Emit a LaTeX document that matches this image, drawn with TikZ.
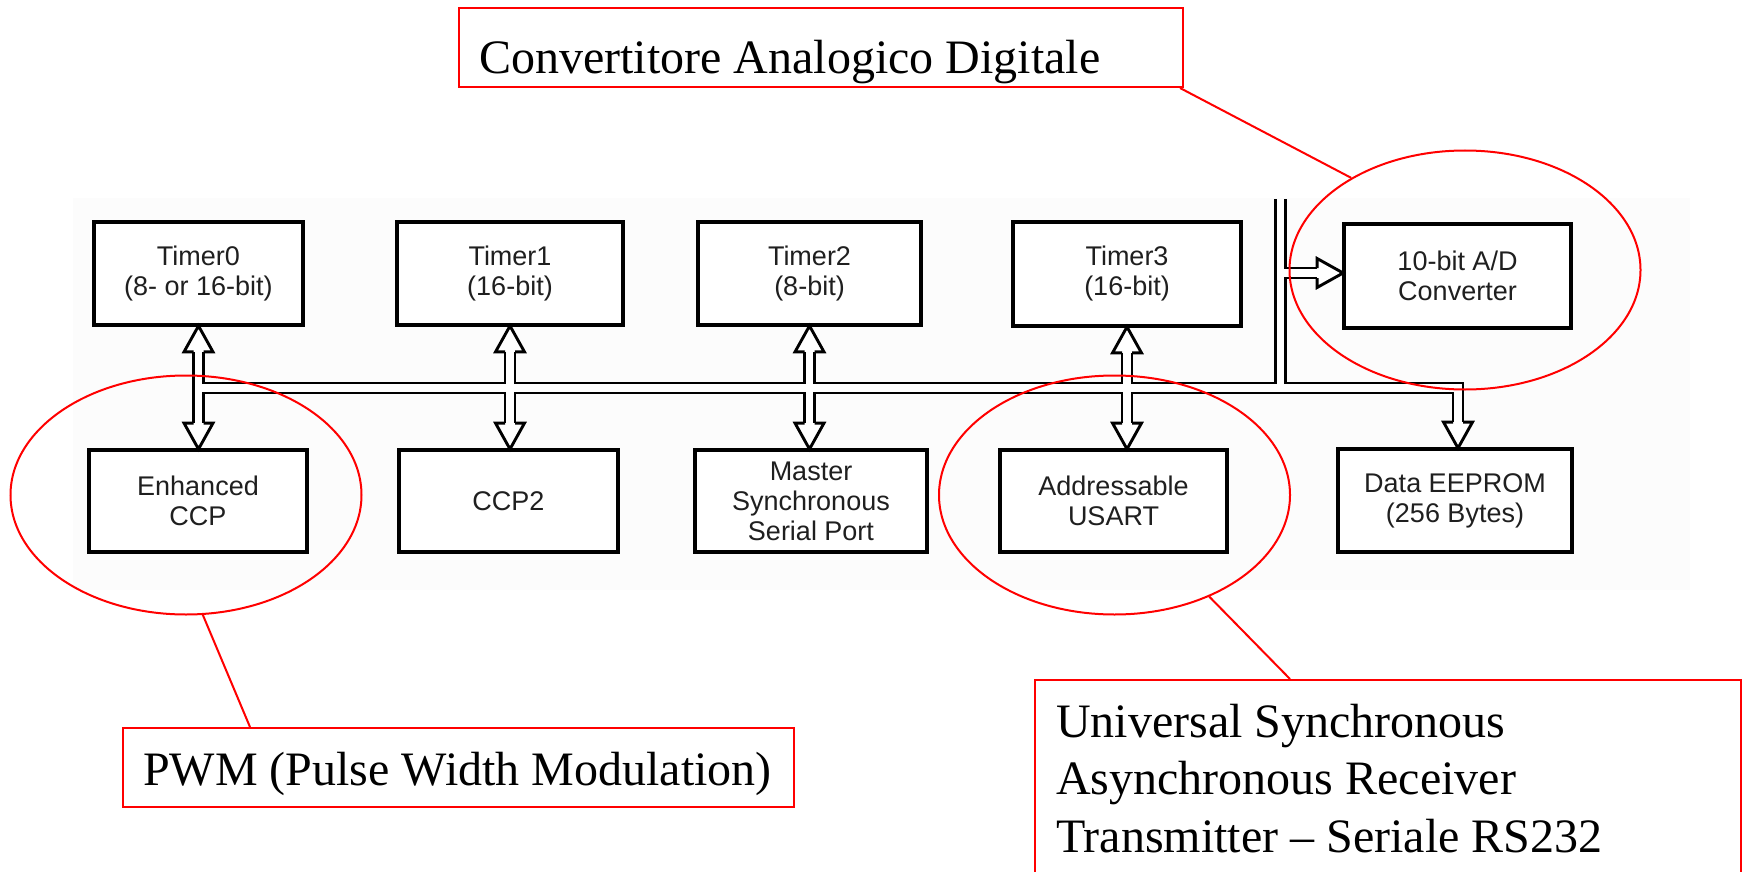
\documentclass[tikz,border=0pt]{standalone}
\usepackage{fontspec}
\setmainfont{Liberation Serif}
\setsansfont{Liberation Sans}
\usetikzlibrary{calc,shapes.geometric}

% hollow arrow head: tip at #1, rotation #2 (0 = pointing down, 180 = up, 90 = right)
\newcommand\hollowhead[2]{%
  \begin{scope}[shift={(#1)},rotate=#2]
    \fill[white] (-14.5,-26) -- (0,0) -- (14.5,-26) -- cycle;
    \draw[chanline] (-5,-26) -- (-14.5,-26) -- (0,0) -- (14.5,-26) -- (5,-26);
  \end{scope}}

\begin{document}
\begin{tikzpicture}[x=1pt,y=-1pt,
  chanline/.style={line width=2.9pt,line join=miter,line cap=butt,black},
  chanouter/.style={line width=12.9pt,black,line join=miter,line cap=butt},
  chaninner/.style={line width=7.1pt,white,line join=miter,line cap=butt},
  unit/.style={draw=black,line width=2.8pt,fill=white,inner sep=0pt,align=center,
    text=black!88,font=\sffamily\fontsize{27}{30}\selectfont},
  ring/.style={ellipse,draw=red,line width=2pt,inner sep=0pt,
    minimum width=351pt,minimum height=239pt},
  note/.style={draw=red,line width=2pt,fill=white,inner sep=0pt,anchor=north west},
  notetext/.style={font=\fontsize{48}{57.5}\selectfont,inner sep=0pt,anchor=base west},
  lead/.style={red,line width=2pt}]

\useasboundingbox (0,0) rectangle (1743,872);
\clip (0,0) rectangle (1743,872);
\fill[white] (0,0) rectangle (1743,872);
\fill[black!1] (73,198) rectangle (1690,590);

% peripheral blocks
\node[unit,minimum width=208pt,minimum height=102pt] (t0) at (198.5,273.5) {Timer0\\(8- or 16-bit)};
\node[unit,minimum width=225pt,minimum height=102pt] (t1) at (510,273.5) {Timer1\\(16-bit)};
\node[unit,minimum width=222pt,minimum height=102pt] (t2) at (809.5,273.5) {Timer2\\(8-bit)};
\node[unit,minimum width=227pt,minimum height=103pt] (t3) at (1127,274) {Timer3\\(16-bit)};
\node[unit,minimum width=226pt,minimum height=103pt] (adc) at (1457.5,276) {10-bit A/D\\Converter};
\node[unit,minimum width=217pt,minimum height=101pt] (eccp) at (198,501) {Enhanced\\CCP};
\node[unit,minimum width=218pt,minimum height=101pt] (ccp2) at (508.5,501) {CCP2};
\node[unit,minimum width=231pt,minimum height=101pt] (mssp) at (811,501) {Master\\Synchronous\\Serial Port};
\node[unit,minimum width=226pt,minimum height=101pt] (usart) at (1113.5,501) {Addressable\\USART};
\node[unit,minimum width=233pt,minimum height=102pt] (eeprom) at (1455,500.5) {Data EEPROM\\(256 Bytes)};

% bus geometry
\coordinate (busrow) at (0,388);
\coordinate (vtop) at (1280.5,199);
\coordinate (adtip) at ([yshift=3pt]adc.west);
\coordinate (eetip) at ([xshift=3pt]eeprom.north);

% hollow data bus: black outline first, white core second
\foreach \s in {chanouter,chaninner}{
  \draw[\s]
    ($(t0.south)+(0,26)$) -- ($(t0.south |- eccp.north)+(0,-24)$)
    ($(t1.south)+(0,26)$) -- ($(t1.south |- ccp2.north)+(0,-24)$)
    ($(t2.south)+(0,26)$) -- ($(t2.south |- mssp.north)+(0,-24)$)
    ($(t3.south)+(0,26)$) -- ($(t3.south |- usart.north)+(0,-24)$)
    (t0.south |- busrow) -- (eetip |- busrow) -- ($(eetip)+(0,-24)$)
    (vtop) -- (vtop |- busrow)
    (vtop |- adtip) -- ($(adtip)+(-26,0)$);
}

% arrow heads
\hollowhead{t0.south}{180}
\hollowhead{t1.south}{180}
\hollowhead{t2.south}{180}
\hollowhead{t3.south}{180}
\hollowhead{t0.south |- eccp.north}{0}
\hollowhead{t1.south |- ccp2.north}{0}
\hollowhead{t2.south |- mssp.north}{0}
\hollowhead{t3.south |- usart.north}{0}
\hollowhead{eetip}{0}
\hollowhead{adtip}{90}

% redraw block outlines over the arrow tips
\foreach \n in {t0,t1,t2,t3,adc,eccp,ccp2,mssp,usart,eeprom}
  \draw[black,line width=2.8pt] (\n.north west) rectangle (\n.south east);

% highlight rings
\node[ring] (adcring) at (1465,270) {};
\node[ring] (eccpring) at (186,495) {};
\node[ring] (usartring) at (1114.5,495) {};

% callout boxes
\node[note,minimum width=724pt,minimum height=79pt] (adcnote) at (458,7) {};
\node[notetext] (adctext) at (479,74) {Convertitore Analogico Digitale};

\node[note,minimum width=671pt,minimum height=79pt] (pwmnote) at (122,727) {};
\node[notetext] (pwmtext) at (143,785) {PWM (Pulse Width Modulation)};

\node[note,minimum width=706pt,minimum height=260pt] (usartnote) at (1034,679) {};
\node[notetext] (usartl1) at (1056,737) {Universal Synchronous};
\node[notetext] (usartl2) at (1056,794.5) {Asynchronous Receiver};
\node[notetext] (usartl3) at (1056,852) {Transmitter – Seriale RS232};

% leader lines
\draw[lead] ([xshift=-4pt]adcnote.south east) -- (adcring.141.6);
\draw[lead] ([xshift=128pt]pwmnote.north west) -- (eccpring.-82.5);
\draw[lead] ([xshift=256pt]usartnote.north west) -- (usartring.-47);
\end{tikzpicture}
\end{document}
